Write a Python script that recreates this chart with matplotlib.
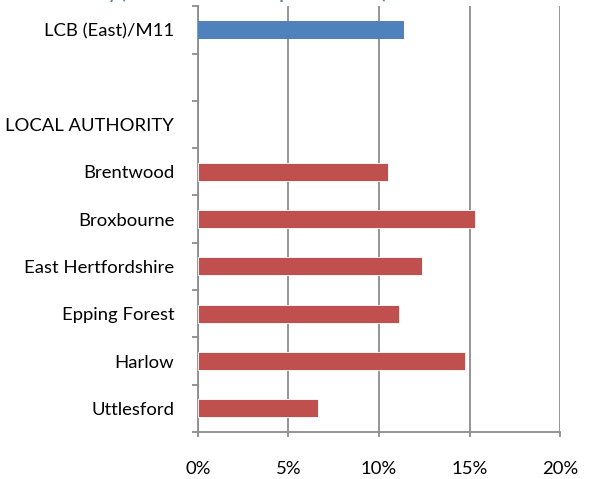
import matplotlib
matplotlib.use("Agg")
import matplotlib.pyplot as plt
import numpy as np
from matplotlib.ticker import FixedLocator, PercentFormatter

# categories from top to bottom
labels = ["LCB (East)/M11", "", "LOCAL AUTHORITY", "Brentwood", "Broxbourne",
          "East Hertfordshire", "Epping Forest", "Harlow", "Uttlesford"]
lcb_value = [11.4]
la_names = ["Brentwood", "Broxbourne", "East Hertfordshire", "Epping Forest", "Harlow", "Uttlesford"]
la_values = [10.5, 15.3, 12.4, 11.1, 14.75, 6.65]

plt.rcParams['font.family'] = ['Lato', 'DejaVu Sans']

fig = plt.figure(figsize=(5.94, 4.79), dpi=100)
ax = fig.add_axes([0.333, 0.098, 0.610, 0.889])

n = len(labels)
ypos = {lab: n - 1 - i for i, lab in enumerate(labels)}

ax.barh([ypos["LCB (East)/M11"]], lcb_value, height=0.38, color="#4F81BD", zorder=3)
ax.barh([ypos[nm] for nm in la_names], la_values, height=0.38, color="#C0504D",
        edgecolor="white", linewidth=0.6, zorder=3)

ax.set_xlim(0, 20)
ax.set_ylim(-0.5, n - 0.5)
ax.set_xticks([0, 5, 10, 15, 20])
ax.xaxis.set_major_formatter(PercentFormatter(decimals=0))
ax.grid(axis="x", color="#8c8c8c", linewidth=1.3, zorder=0)

ax.set_yticks(range(n))
ax.set_yticklabels(labels[::-1])
ax.yaxis.set_minor_locator(FixedLocator(np.arange(-0.5, n, 1)))
ax.tick_params(axis="y", which="major", length=0, pad=17, labelsize=13.3)
ax.tick_params(axis="y", which="minor", length=4.3, width=1.3, color="#8c8c8c")
ax.tick_params(axis="x", length=3.6, width=1.3, color="#8c8c8c", labelsize=13.3, pad=17)

for s in ["top", "right"]:
    ax.spines[s].set_visible(False)
for s in ["left", "bottom"]:
    ax.spines[s].set_color("#8c8c8c")
    ax.spines[s].set_linewidth(1.3)

# title sits mostly above the visible area
fig.text(0.31, 1.0125, "by Local Authority (source: Census of Population 2011)",
         color="#4F81BD", fontsize=12, fontweight="bold", ha="center", va="center")

fig.savefig("out.png", dpi=100)
